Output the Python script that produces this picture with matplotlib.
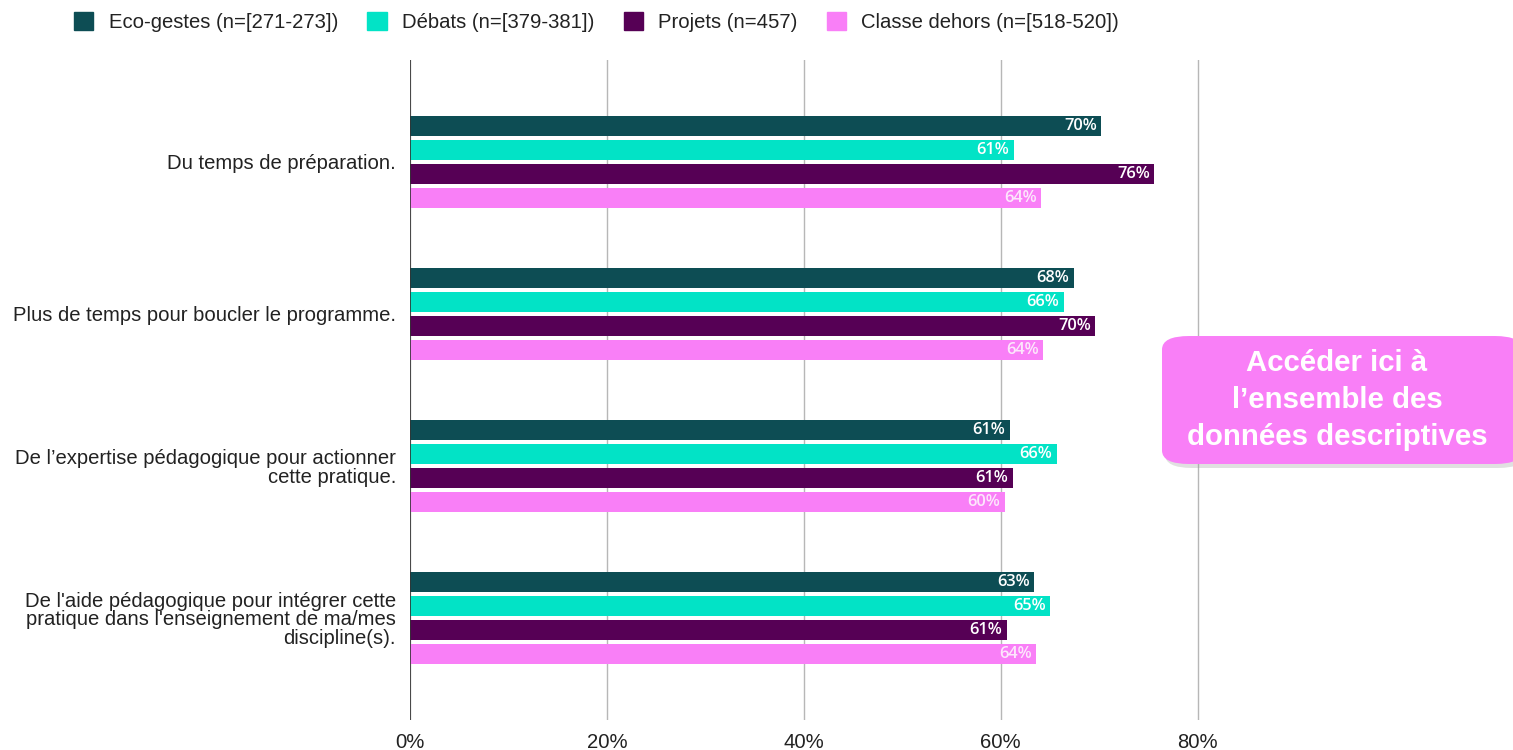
import numpy as np
import matplotlib.pyplot as plt
from matplotlib.patches import FancyBboxPatch, Patch

questions = [
    "Du temps de préparation.",
    "Plus de temps pour boucler le programme.",
    "De l\u2019expertise pédagogique pour actionner\ncette pratique.",
    "De l'aide pédagogique pour intégrer cette\npratique dans l'enseignement de ma/mes\ndiscipline(s).",
]
series = [
    "Eco-gestes (n=[271-273])",
    "Débats (n=[379-381])",
    "Projets (n=457)",
    "Classe dehors (n=[518-520])",
]
eco = [70.2, 67.4, 60.9, 63.4]
debats = [61.3, 66.4, 65.7, 65.0]
projets = [75.6, 69.6, 61.2, 60.6]
dehors = [64.1, 64.3, 60.4, 63.6]
labels = [
    ["70%", "68%", "61%", "63%"],
    ["61%", "66%", "66%", "65%"],
    ["76%", "70%", "61%", "61%"],
    ["64%", "64%", "60%", "64%"],
]
colors = ["#0d4d54", "#02e3c6", "#560055", "#f97ff7"]
text_colors = ["white", "white", "white", "#fde6fc"]

plt.rcParams["font.family"] = ["Liberation Sans", "DejaVu Sans"]

fig = plt.figure(figsize=(15.13, 7.5), dpi=100)
ax = fig.add_axes([410 / 1513, 30 / 750, 1090 / 1513, 660 / 750])

y = np.arange(len(questions))
step = 0.158
height = 0.132
for i, vals in enumerate([eco, debats, projets, dehors]):
    pos = y + (i - 1.5) * step
    bars = ax.barh(pos, vals, height=height, color=colors[i], zorder=3)
    for b, lab in zip(bars, labels[i]):
        ax.text(b.get_width() - 0.45, b.get_y() + b.get_height() / 2, lab,
                ha="right", va="center", color=text_colors[i], fontsize=11.8,
                family=["Open Sans", "DejaVu Sans"], fontweight="semibold", zorder=4)

ax.set_ylim(3.67, -0.67)
ax.set_xlim(0, 110.7)
ax.set_xticks([0, 20, 40, 60, 80])
ax.set_xticklabels(["0%", "20%", "40%", "60%", "80%"], fontsize=14.6, color="#222222")
ax.set_yticks(y)
ax.set_yticklabels(questions, fontsize=14.6, color="#222222", linespacing=0.97)
ax.tick_params(length=0, pad=10)
ax.tick_params(axis="x", pad=9)
ax.grid(axis="x", color="#b7b7b7", linewidth=1, zorder=0)
ax.axvline(0, color="#333333", linewidth=1.2, zorder=5)
for s in ax.spines.values():
    s.set_visible(False)

handles = [Patch(facecolor=c, edgecolor=c) for c in colors]
fig.legend(handles, series, loc="upper left", bbox_to_anchor=(0.037, 1.008), ncol=4,
           frameon=False, fontsize=14.6, handlelength=0.95, handleheight=0.95,
           columnspacing=1.45, handletextpad=0.75, labelcolor="#222222")

# encadré "Accéder ici"
shadow = FancyBboxPatch((1165 / 1513, 1 - 468 / 750), 360 / 1513, 127 / 750,
                        boxstyle="round,pad=0,rounding_size=0.018",
                        transform=fig.transFigure, facecolor="#9a9a9a", alpha=0.3,
                        edgecolor="none", zorder=9)
box = FancyBboxPatch((1162 / 1513, 1 - 464 / 750), 360 / 1513, 128 / 750,
                     boxstyle="round,pad=0,rounding_size=0.018",
                     transform=fig.transFigure, facecolor="#f97ff7",
                     edgecolor="none", zorder=10)
fig.patches.extend([shadow, box])
fig.text(1337 / 1513, 1 - 400 / 750, "Accéder ici à\nl\u2019ensemble des\ndonnées descriptives",
         ha="center", va="center", color="white", fontsize=21.2, fontweight="bold",
         linespacing=1.43, zorder=11)

fig.savefig("out.png", dpi=100, facecolor="white")
